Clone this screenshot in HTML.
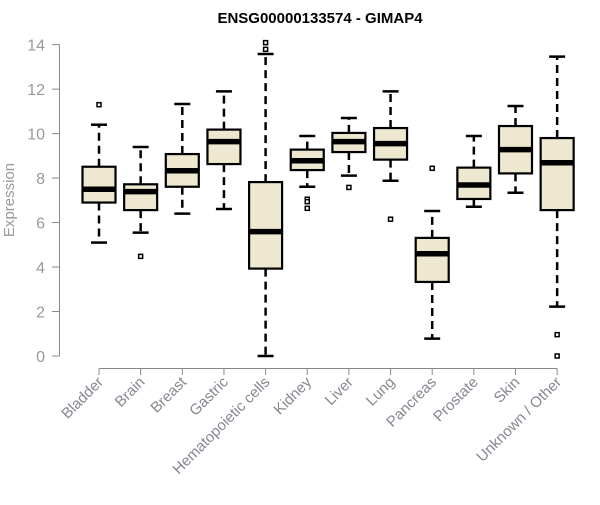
<!DOCTYPE html>
<html><head><meta charset="utf-8"><style>
body{margin:0;background:#fff;width:600px;height:500px;overflow:hidden}
svg{font-family:"Liberation Sans",sans-serif}
</style></head><body>
<svg id="chart" width="600" height="500">
<text x="320" y="23" text-anchor="middle" font-weight="bold" font-size="15">ENSG00000133574 - GIMAP4</text>
<text transform="translate(14,200) rotate(-90)" text-anchor="middle" font-size="15" fill="#999">Expression</text>
<g id="axes"></g><g id="boxes"></g>
</svg>
<script>
const categories=["Bladder","Brain","Breast","Gastric","Hematopoietic cells","Kidney","Liver","Lung","Pancreas","Prostate","Skin","Unknown / Other"];
const whiskerLow=[5.1,5.55,6.4,6.61,0,7.61,8.11,7.88,0.78,6.71,7.34,2.22];
const q1=[6.9,6.56,7.61,8.63,3.93,8.36,9.17,8.83,3.33,7.06,8.21,6.56];
const median=[7.5,7.39,8.33,9.64,5.59,8.78,9.64,9.55,4.6,7.69,9.28,8.69];
const q3=[8.51,7.72,9.08,10.18,7.82,9.28,10.03,10.25,5.31,8.47,10.34,9.8];
const whiskerHigh=[10.4,9.4,11.33,11.9,13.58,9.89,10.7,11.9,6.52,9.89,11.24,13.46];
const outliers=[[11.3],[4.48],[],[],[14.09,13.79],[7.05,6.94,6.64],[7.58],[6.15],[8.44],[],[],[0.96,0]];
const yTicks=[0,2,4,6,8,10,12,14];
const NS="http://www.w3.org/2000/svg";
const yS=v=>356-v*22.24;
const xS=i=>99+i*41.65;
function mk(tag,attrs,parent){const e=document.createElementNS(NS,tag);for(const k in attrs)e.setAttribute(k,attrs[k]);parent.appendChild(e);return e;}
const ax=document.getElementById('axes'),bx=document.getElementById('boxes');
let l=mk('line',{x1:59.5,x2:59.5,y1:yS(0),y2:yS(14),stroke:'#888'},ax);


yTicks.forEach(t=>{
 mk('line',{x1:52,x2:59.5,y1:yS(t),y2:yS(t),stroke:'#888'},ax);
 const tx=mk('text',{x:45,y:yS(t)+6,'text-anchor':'end','font-size':16,fill:'#999'},ax);
 tx.textContent=t;
 
 
});
l=mk('line',{x1:xS(0),x2:xS(11),y1:368.5,y2:368.5,stroke:'#888'},ax);


categories.forEach((c,i)=>{
 const x=xS(i);
 mk('line',{x1:x,x2:x,y1:368.5,y2:375,stroke:'#888'},ax);
 const tx=mk('text',{transform:`translate(${x+5},${383}) rotate(-45)`,'text-anchor':'end','font-size':15,fill:'#858890'},ax);
 tx.textContent=c;
 
 
 const g=mk('g',{},bx);
 
 
 const hw=16.5;
 mk('line',{x1:x,x2:x,y1:yS(q3[i]),y2:yS(whiskerHigh[i]),stroke:'#000','stroke-width':2.5,'stroke-dasharray':'8,5'},g);
 mk('line',{x1:x,x2:x,y1:yS(q1[i]),y2:yS(whiskerLow[i]),stroke:'#000','stroke-width':2.5,'stroke-dasharray':'8,5'},g);
 mk('line',{x1:x-8,x2:x+8,y1:yS(whiskerHigh[i]),y2:yS(whiskerHigh[i]),stroke:'#000','stroke-width':2.5},g);
 mk('line',{x1:x-8,x2:x+8,y1:yS(whiskerLow[i]),y2:yS(whiskerLow[i]),stroke:'#000','stroke-width':2.5},g);
 mk('rect',{x:x-hw,y:yS(q3[i]),width:hw*2,height:yS(q1[i])-yS(q3[i]),fill:'#ede8cf',stroke:'#000','stroke-width':2.2},g);
 mk('line',{x1:x-hw,x2:x+hw,y1:yS(median[i]),y2:yS(median[i]),stroke:'#000','stroke-width':5.5},g);
 outliers[i].forEach(o=>{
  const p=mk('rect',{x:x-2,y:yS(o)-2,width:4,height:4,fill:'#fff',stroke:'#000','stroke-width':1.5},g);
  
  
 });
});
</script>
</body></html>
